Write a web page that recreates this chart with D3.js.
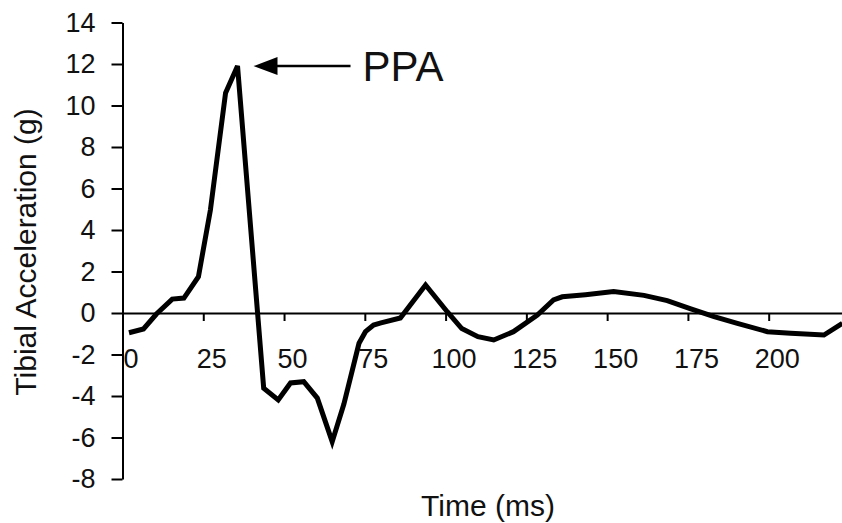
<!DOCTYPE html>
<html>
<head>
<meta charset="utf-8">
<script src="https://d3js.org/d3.v7.min.js"></script>
<style>
  body { margin: 0; background: #fff; }
  svg { display: block; font-family: Arial, "Liberation Sans", sans-serif; }
</style>
</head>
<body>
<div id="chart"></div>
<script>
// Time (ms) and tibial acceleration (g)
var timeMs = [2.0, 6.5, 10.5, 15.4, 19.0, 23.5, 27.2, 31.9, 35.6, 43.7, 48.2, 52.0, 56.1, 60.3, 64.9,
              68.5, 73.2, 75.2, 77.7, 80.0, 86.0, 93.8, 100.5, 105.0, 110.0, 114.9, 121.0, 128.4,
              133.4, 136.1, 143.3, 152.0, 161.4, 168.6, 175.9, 183.1, 190.3, 199.6, 206.8, 217.1, 222.8];
var accel  = [-0.95, -0.77, -0.05, 0.67, 0.72, 1.75, 4.96, 10.6, 11.9, -3.63, -4.19, -3.37, -3.31, -4.1, -6.2,
              -4.4, -1.46, -0.9, -0.58, -0.48, -0.24, 1.35, 0.06, -0.75, -1.14, -1.3, -0.9, -0.1,
              0.63, 0.78, 0.88, 1.03, 0.85, 0.6, 0.2, -0.18, -0.5, -0.9, -0.98, -1.06, -0.5];
var xTicks = [0, 25, 50, 75, 100, 125, 150, 175, 200];
var yTicks = [-8, -6, -4, -2, 0, 2, 4, 6, 8, 10, 12, 14];
var peakLabel = "PPA";

var width = 842, height = 523;

var svg = d3.select("#chart")
    .append("svg")
    .attr("width", width)
    .attr("height", height);

var x = d3.scaleLinear().domain([0, 223]).range([122.5, 843]);
var y = d3.scaleLinear().domain([-8, 14]).range([479, 22.5]);

var data = timeMs.map(function(t, i) { return { t: t, v: accel[i] }; });

// plain hyphen for negatives, like the original
var plain = function(d) { return String(d); };

// Y axis with ticks on the left
var yAxis = svg.append("g")
    .attr("transform", "translate(" + x(0) + ",0)")
    .call(d3.axisLeft(y).tickValues(yTicks).tickFormat(plain).tickSize(11).tickSizeOuter(0).tickPadding(16));
yAxis.select(".domain").attr("stroke", "#000").attr("stroke-width", 2);
yAxis.selectAll(".tick line").attr("stroke", "#000").attr("stroke-width", 2);
yAxis.selectAll(".tick text")
    .style("font-size", "27px")
    .style("font-family", "Arial, 'Liberation Sans', sans-serif")
    .attr("fill", "#111");

// X axis drawn along zero line, labels sit a bit right of ticks
var xAxis = svg.append("g")
    .attr("transform", "translate(0," + y(0) + ")")
    .call(d3.axisBottom(x).tickValues(xTicks).tickFormat(plain).tickSize(8).tickSizeOuter(0).tickPadding(28));
xAxis.select(".domain").attr("stroke", "#000").attr("stroke-width", 2);
xAxis.selectAll(".tick line").attr("stroke", "#000").attr("stroke-width", 2);
xAxis.selectAll(".tick text")
    .attr("x", 8)
    .style("font-size", "27px")
    .style("font-family", "Arial, 'Liberation Sans', sans-serif")
    .attr("fill", "#111");

// Acceleration trace
svg.append("path")
  .datum(data)
  .attr("fill", "none")
  .attr("stroke", "#000")
  .attr("stroke-width", 5)
  .attr("d", d3.line()
    .x(function(d) { return x(d.t) })
    .y(function(d) { return y(d.v) })
    );

// Axis titles
svg.append("text")
    .attr("x", 488).attr("y", 516)
    .attr("text-anchor", "middle")
    .style("font-size", "30px")
    .attr("fill", "#111")
    .text("Time (ms)");

svg.append("text")
    .attr("transform", "translate(36,252) rotate(-90)")
    .attr("text-anchor", "middle")
    .style("font-size", "30px")
    .attr("fill", "#111")
    .text("Tibial Acceleration (g)");

// PPA annotation: arrow pointing at the peak
var peak = data[d3.maxIndex(data, function(d) { return d.v; })];
var tipX = x(peak.t) + 16, tipY = y(peak.v);
svg.append("line")
  .attr("x1", tipX + 20).attr("y1", tipY)
  .attr("x2", tipX + 97).attr("y2", tipY)
  .attr("stroke", "#000")
  .attr("stroke-width", 2.5);
svg.append("path")
  .attr("d", "M" + tipX + "," + tipY + " L" + (tipX + 24) + "," + (tipY - 9) + " L" + (tipX + 24) + "," + (tipY + 9) + " Z")
  .attr("fill", "#000");
svg.append("text")
    .attr("x", tipX + 109).attr("y", tipY + 15)
    .style("font-size", "42px")
    .attr("fill", "#111")
    .text(peakLabel);
</script>
</body>
</html>
